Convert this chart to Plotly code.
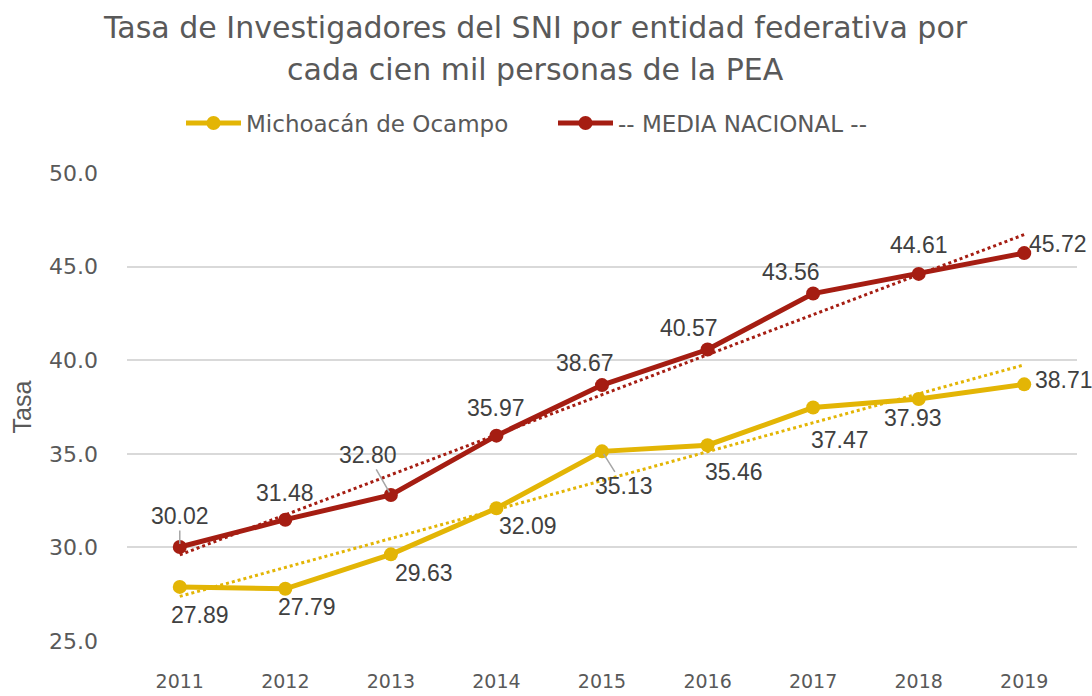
import numpy as np
import plotly.graph_objects as go

years = ["2011", "2012", "2013", "2014", "2015", "2016", "2017", "2018", "2019"]
michoacan = [27.89, 27.79, 29.63, 32.09, 35.13, 35.46, 37.47, 37.93, 38.71]
nacional = [30.02, 31.48, 32.80, 35.97, 38.67, 40.57, 43.56, 44.61, 45.72]
title_lines = ["Tasa de Investigadores del SNI por entidad federativa por",
               "cada cien mil personas de la PEA"]

YELLOW = "#E3B505"
RED = "#A51D12"
TXT = "#404040"
GREY = "#595959"
FONT = "DejaVu Sans, sans-serif"

idx = np.arange(1, len(years) + 1)


def trend(vals):
    m, b = np.polyfit(idx, vals, 1)
    return m * idx + b


fig = go.Figure()
fig.add_trace(go.Scatter(x=years, y=trend(michoacan), mode="lines",
                         line=dict(color=YELLOW, width=3, dash="dot"),
                         showlegend=False, hoverinfo="skip"))
fig.add_trace(go.Scatter(x=years, y=trend(nacional), mode="lines",
                         line=dict(color=RED, width=3, dash="dot"),
                         showlegend=False, hoverinfo="skip"))
fig.add_trace(go.Scatter(x=years, y=michoacan, mode="lines+markers",
                         name="Michoacán de Ocampo",
                         line=dict(color=YELLOW, width=5),
                         marker=dict(size=14, color=YELLOW)))
fig.add_trace(go.Scatter(x=years, y=nacional, mode="lines+markers",
                         name="-- MEDIA NACIONAL --",
                         line=dict(color=RED, width=5),
                         marker=dict(size=14, color=RED)))

# label offsets (pixels) and whether a leader line is shown
red_off = [(0, -31, True), (0, -27, False), (-23, -40, True), (0, -28, False),
           (-17, -22, False), (-19, -22, False), (-22, -22, False), (0, -29, False),
           (34, -9, False)]
yel_off = [(20, 28, False), (22, 18, False), (33, 19, False), (32, 18, False),
           (22, 35, True), (26, 27, False), (27, 32, False), (-6, 19, False),
           (40, -4, False)]

annotations = []
for vals, offs in ((nacional, red_off), (michoacan, yel_off)):
    for i, (v, (dx, dy, lead)) in enumerate(zip(vals, offs)):
        annotations.append(dict(
            x=i, y=v, xref="x", yref="y", text=f"{v:.2f}",
            showarrow=True, ax=dx, ay=dy, axref="pixel", ayref="pixel",
            arrowhead=0, arrowwidth=1.5, standoff=3,
            arrowcolor="#A6A6A6" if lead else "rgba(0,0,0,0)",
            font=dict(family="Liberation Sans, Arial, sans-serif", size=23, color=TXT),
        ))

# title lines (pixel centre y = 27 and 70; plot top 173, bottom 641)
for line, py in zip(title_lines, (27, 70)):
    annotations.append(dict(
        text=line, xref="paper", yref="paper",
        x=(535 - 127) / 950, y=(641 - py) / 468,
        xanchor="center", yanchor="middle", showarrow=False,
        font=dict(family=FONT, size=30, color=GREY)))

fig.update_layout(
    width=1092, height=696,
    margin=dict(l=127, r=15, t=173, b=55),
    paper_bgcolor="white", plot_bgcolor="white",
    legend=dict(orientation="h", x=(181 - 127) / 950, xanchor="left",
                y=(641 - 123) / 468, yanchor="middle",
                font=dict(family=FONT, size=23, color=GREY),
                entrywidth=302, entrywidthmode="pixels",
                itemwidth=55, tracegroupgap=0),
    xaxis=dict(type="category", range=[-0.5, len(years) - 0.5],
               showgrid=False, showline=False, ticks="", automargin=False,
               tickfont=dict(family=FONT, size=19, color=GREY),
               ticklabelstandoff=27),
    yaxis=dict(range=[25, 50], dtick=5, tickformat=".1f",
               showgrid=True, gridcolor="#D9D9D9", gridwidth=1.5,
               zeroline=False, showline=False, ticks="", automargin=False,
               tickfont=dict(family=FONT, size=22, color=GREY),
               ticklabelstandoff=28,
               title=dict(text="Tasa", standoff=10,
                          font=dict(family="Liberation Sans, Arial, sans-serif", size=25, color=GREY))),
    annotations=annotations,
    showlegend=True,
)

fig.write_html("out.html")
